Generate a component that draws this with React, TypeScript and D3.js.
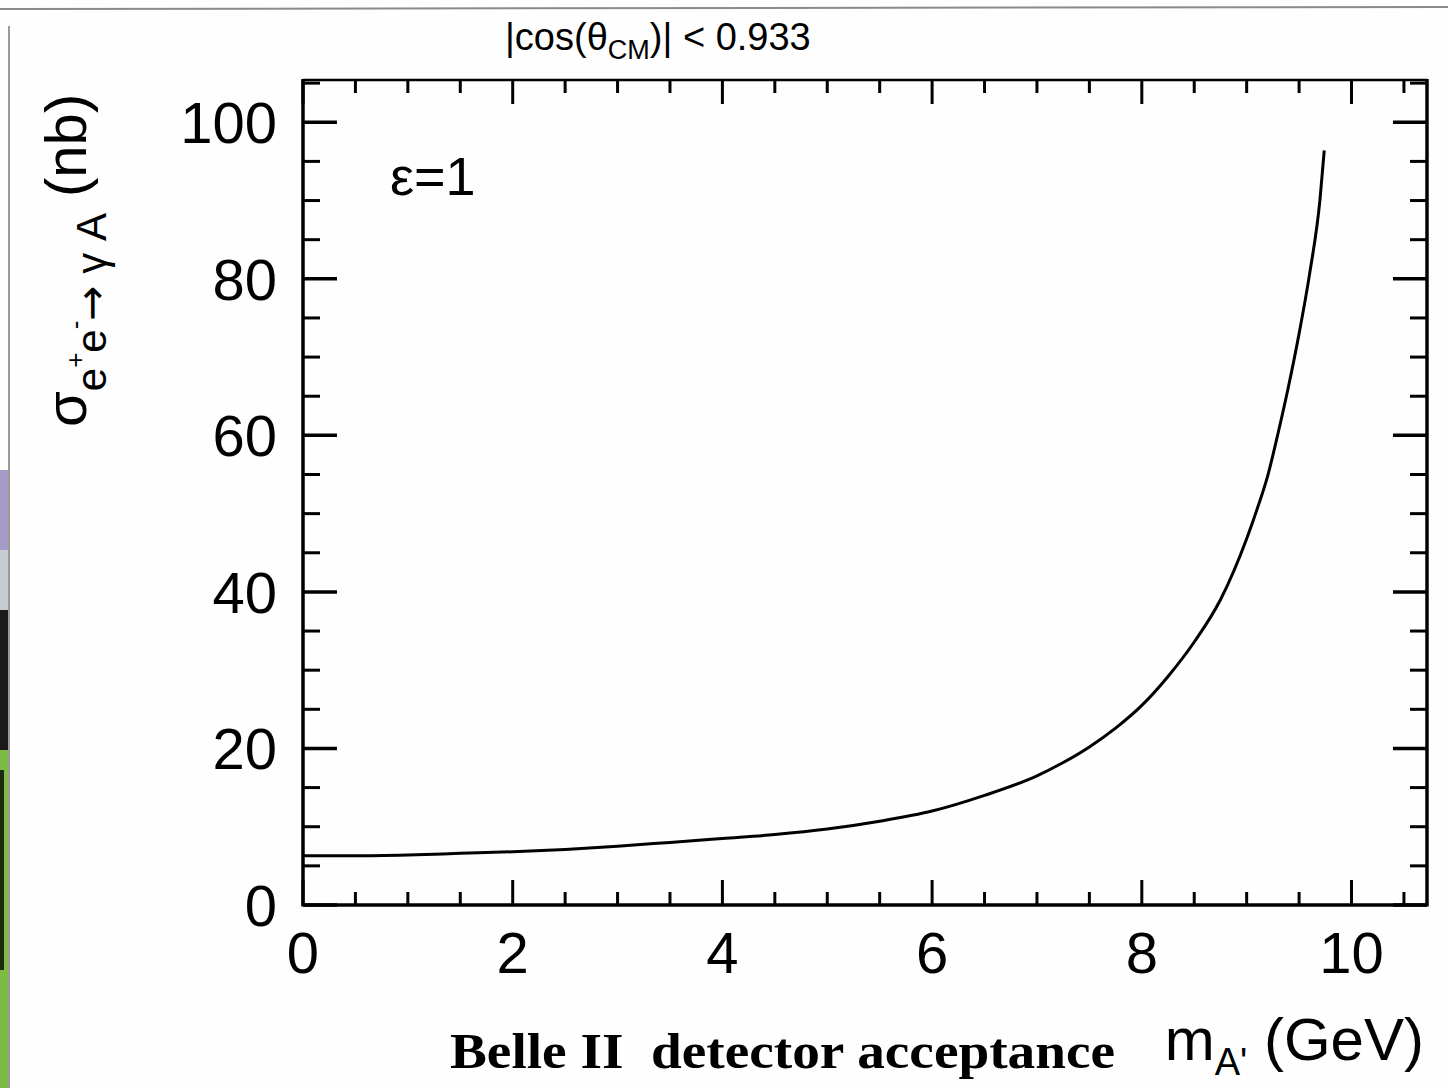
import React from "react";
import * as d3 from "d3";

const massGeV = [0, 0.5, 1, 1.5, 2, 2.5, 3, 3.5, 4, 4.5, 5, 5.5, 6, 6.5, 7, 7.25, 7.5, 7.75, 8, 8.25, 8.5, 8.75, 9, 9.1, 9.2, 9.3, 9.4, 9.5, 9.6, 9.7, 9.74];
const sigmaNb = [6.3, 6.3, 6.4, 6.6, 6.8, 7.1, 7.5, 8.0, 8.5, 9.0, 9.7, 10.7, 12.0, 14.0, 16.5, 18.2, 20.2, 22.6, 25.5, 29.2, 33.6, 39.0, 46.8, 50.6, 54.8, 60.3, 66.3, 73.0, 80.6, 90.2, 96.4];

const xMajorTicks = [0, 2, 4, 6, 8, 10];
const yMajorTicks = [0, 20, 40, 60, 80, 100];
const xDomain = [0, 10.72];
const yDomain = [0, 105.4];

export default function App() {
  const L = 303, R = 1427, T = 80, B = 905;
  const x = d3.scaleLinear().domain(xDomain).range([L, R]);
  const y = d3.scaleLinear().domain(yDomain).range([B, T]);

  const xMinor = d3.range(0.5, xDomain[1], 0.5).filter((v) => Math.abs(v / 2 - Math.round(v / 2)) > 1e-6);
  const yMinor = d3.range(5, yDomain[1], 5).filter((v) => v % 20 !== 0);

  const pts = massGeV.map((m, i) => [m, sigmaNb[i]] as [number, number]);
  const line = d3
    .line<[number, number]>()
    .x((d) => x(d[0]))
    .y((d) => y(d[1]))
    .curve(d3.curveMonotoneX);

  const sans = "'Liberation Sans', Arial, Helvetica, sans-serif";
  const tickFont = 58;

  return (
    <svg
      width={1448}
      height={1088}
      style={{ position: "absolute", left: 0, top: 0, background: "#fff" }}
      xmlns="http://www.w3.org/2000/svg"
    >
      <rect x={0} y={0} width={1448} height={1088} fill="#fefefe" />
      {/* slide edges */}
      <line x1={0} y1={9} x2={1448} y2={7} stroke="#8a8a8a" strokeWidth={2} />
      <rect x={0} y={470} width={8} height={80} fill="#a59bc6" />
      <rect x={0} y={550} width={8} height={60} fill="#c8ccd4" />
      <rect x={0} y={610} width={8} height={140} fill="#1a1a1a" />
      <rect x={0} y={750} width={8} height={338} fill="#7dbb45" />
      <rect x={0} y={770} width={4} height={200} fill="#1d2a12" />
      <line x1={9} y1={26} x2={9} y2={1088} stroke="#9a9a9a" strokeWidth={2} />

      {/* curve */}
      <path d={line(pts) || ""} fill="none" stroke="#000" strokeWidth={3} />

      {/* frame */}
      <line x1={L} x2={R} y1={T} y2={T} stroke="#000" strokeWidth={2.5} />
      <line x1={L} x2={R} y1={B} y2={B} stroke="#000" strokeWidth={3.5} />
      <line x1={L} x2={L} y1={T - 1} y2={B + 1.5} stroke="#000" strokeWidth={3.5} />
      <line x1={R} x2={R} y1={T - 1} y2={B + 1.5} stroke="#000" strokeWidth={3.5} />

      {/* x ticks bottom & top */}
      {xMajorTicks.map((v) => (
        <g key={"xM" + v}>
          <line x1={x(v)} x2={x(v)} y1={B} y2={B - 25} stroke="#000" strokeWidth={3} />
          <line x1={x(v)} x2={x(v)} y1={T} y2={T + 24} stroke="#000" strokeWidth={3} />
        </g>
      ))}
      {xMinor.map((v) => (
        <g key={"xm" + v}>
          <line x1={x(v)} x2={x(v)} y1={B} y2={B - 13} stroke="#000" strokeWidth={3} />
          <line x1={x(v)} x2={x(v)} y1={T} y2={T + 13} stroke="#000" strokeWidth={3} />
        </g>
      ))}

      {/* y ticks left & right */}
      {yMajorTicks.map((v) => (
        <g key={"yM" + v}>
          <line x1={L} x2={L + 34} y1={y(v)} y2={y(v)} stroke="#000" strokeWidth={3.5} />
          <line x1={R} x2={R - 34} y1={y(v)} y2={y(v)} stroke="#000" strokeWidth={3.5} />
        </g>
      ))}
      {yMinor.map((v) => (
        <g key={"ym" + v}>
          <line x1={L} x2={L + 17} y1={y(v)} y2={y(v)} stroke="#000" strokeWidth={3} />
          <line x1={R} x2={R - 17} y1={y(v)} y2={y(v)} stroke="#000" strokeWidth={3} />
        </g>
      ))}

      {/* tick labels */}
      {xMajorTicks.map((v) => (
        <text key={"xl" + v} x={x(v)} y={973} textAnchor="middle" fontFamily={sans} fontSize={tickFont} fill="#000">
          {v}
        </text>
      ))}
      {yMajorTicks.map((v) => (
        <text key={"yl" + v} x={277} y={y(v) + 21} textAnchor="end" fontFamily={sans} fontSize={tickFont} fill="#000">
          {v}
        </text>
      ))}

      {/* title */}
      <text x={505} y={50} fontFamily={sans} fontSize={38} fill="#000">
        |cos(θ
        <tspan fontSize={27} dy={9}>CM</tspan>
        <tspan dy={-9}>)| &lt; 0.933</tspan>
      </text>

      {/* epsilon label */}
      <text x={390} y={195} fontFamily={sans} fontSize={54} fill="#000">
        ε=1
      </text>

      {/* y axis title */}
      <text transform="translate(86,427) rotate(-90)" fontFamily={sans} fontSize={58} fill="#000">
        σ
        <tspan fontSize={42} dy={20}>e</tspan>
        <tspan fontSize={26} dy={-22}>+</tspan>
        <tspan fontSize={42} dy={22}>e</tspan>
        <tspan fontSize={26} dy={-22}>-</tspan>
        <tspan fontSize={42} dy={22} fontFamily="'DejaVu Sans', sans-serif">→</tspan>
        <tspan fontSize={42}>{"\u00A0γ A"}</tspan>
        <tspan dy={-20}>{"\u00A0(nb)"}</tspan>
      </text>

      {/* x axis title */}
      <text x={1424} y={1060} textAnchor="end" fontFamily={sans} fontSize={60} fill="#000">
        m
        <tspan fontSize={38} dy={15}>A'</tspan>
        <tspan dy={-15}>{"\u00A0(GeV)"}</tspan>
      </text>

      {/* caption */}
      <text
        x={450}
        y={1068}
        fontFamily="'Liberation Serif', 'DejaVu Serif', serif"
        fontWeight="bold"
        fontSize={50}
        textLength={665}
        lengthAdjust="spacingAndGlyphs"
        fill="#000"
      >
        {"Belle II\u00A0 detector acceptance"}
      </text>
    </svg>
  );
}
